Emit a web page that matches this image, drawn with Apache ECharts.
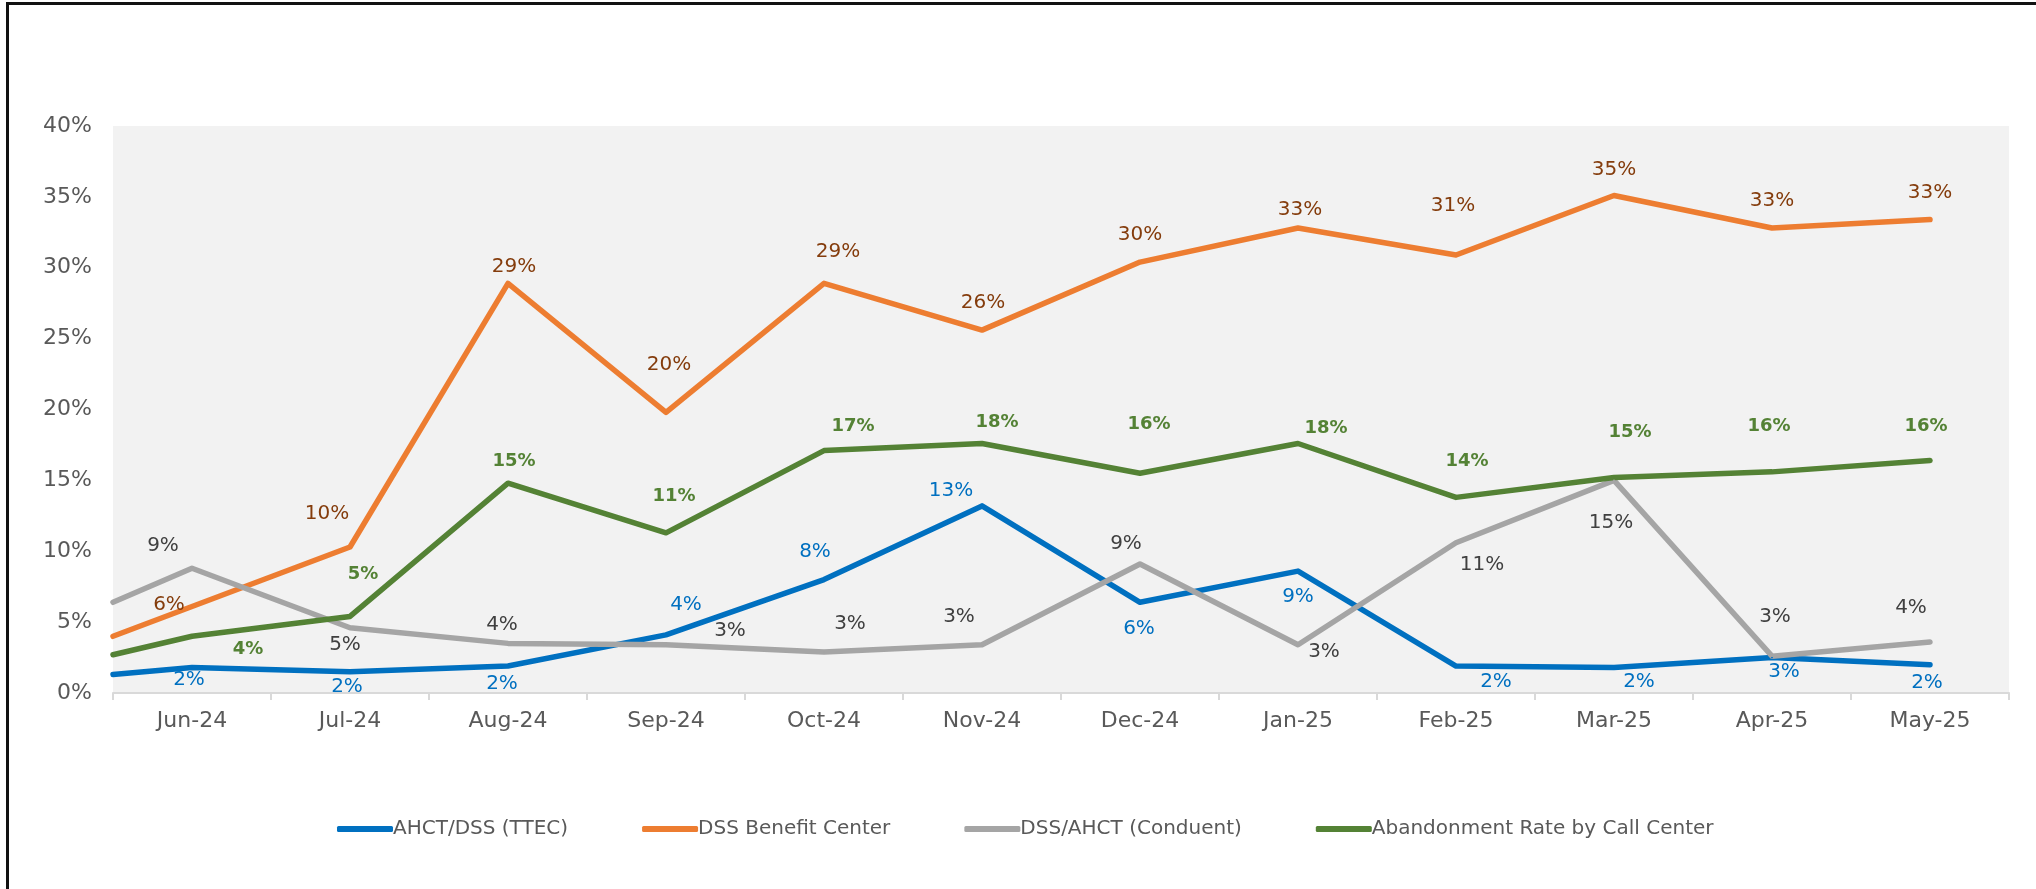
<!DOCTYPE html>
<html>
<head>
<meta charset="utf-8">
<title>Call center rates</title>
<script src="https://cdn.jsdelivr.net/npm/echarts@6/dist/echarts.min.js"></script>
<style>
  html, body { margin: 0; padding: 0; background: #fff; }
  #wrap { position: relative; width: 2036px; height: 889px; }
  #chart { width: 2036px; height: 889px; }
  #frame {
    position: absolute; left: 6px; top: 2px; right: -10px; bottom: -10px;
    border-left: 3px solid #111; border-top: 3px solid #111;
    pointer-events: none;
  }
</style>
</head>
<body>
<div id="wrap">
  <div id="chart"></div>
  <div id="frame"></div>
</div>
<script>
// month labels on the x axis
const months = ['Jun-24', 'Jul-24', 'Aug-24', 'Sep-24', 'Oct-24', 'Nov-24',
  'Dec-24', 'Jan-25', 'Feb-25', 'Mar-25', 'Apr-25', 'May-25']

// values in %, the first value of each series sits on the left edge of the plot (no label)
const ttec = [1.3, 1.8, 1.5, 1.9, 4.1, 8.0, 13.2, 6.4, 8.6, 1.9, 1.8, 2.5, 2.0]
const benefitCenter = [4.0, 6.1, 10.3, 28.9, 19.8, 28.9, 25.6, 30.4, 32.8, 30.9, 35.1, 32.8, 33.4]
const conduent = [6.4, 8.8, 4.6, 3.5, 3.4, 2.9, 3.4, 9.1, 3.4, 10.6, 15.0, 2.6, 3.6]
const abandonment = [2.7, 4.0, 5.4, 14.8, 11.3, 17.1, 17.6, 15.5, 17.6, 13.8, 15.2, 15.6, 16.4]

const seriesNames = ['AHCT/DSS (TTEC)', 'DSS Benefit Center', 'DSS/AHCT (Conduent)', 'Abandonment Rate by Call Center']

// x position of each value: left plot edge, then one per month
const xPos = [-0.5].concat(months.map((m, i) => i))

// label offsets (px, from the point) copied from the original placement
const labelOffsets = {
  ttec: [null, [-3, 12], [-3, 15], [-6, 18], [20, -30], [-9, -28], [-31, -15], [-1, 27], [0, 26], [40, 16], [25, 14], [12, 14], [-3, 18]],
  benefit: [null, [-23, -2], [-23, -33], [6, -17], [3, -48], [14, -32], [1, -27], [0, -27], [2, -18], [-3, -49], [0, -26], [0, -27], [0, -27]],
  conduent: [null, [-29, -22], [-5, 17], [-6, -19], [64, -14], [26, -28], [-23, -28], [-14, -20], [26, 7], [26, 22], [-3, 42], [3, -39], [-19, -34]],
  abandon: [null, [56, 13], [13, -42], [6, -22], [8, -36], [29, -24], [15, -21], [9, -49], [28, -15], [11, -36], [16, -45], [-3, -46], [-4, -34]]
}

const FONT = 'DejaVu Sans'

function buildData(values, offsets) {
  return values.map((v, i) => {
    const off = offsets[i]
    return {
      value: [xPos[i], v],
      label: off ? { show: true, offset: off } : { show: false }
    }
  })
}

function makeSeries(name, values, offsets, lineColor, labelColor, bold) {
  return {
    name: name,
    type: 'line',
    xAxisIndex: 1,
    symbol: 'circle',
    symbolSize: 2,
    showSymbol: true,
    itemStyle: { color: lineColor },
    lineStyle: { color: lineColor, width: 5.5, cap: 'round', join: 'round' },
    label: {
      show: true,
      position: 'inside',
      fontFamily: FONT,
      fontSize: bold ? 18 : 20,
      fontWeight: bold ? 'bold' : 'normal',
      color: labelColor,
      formatter: p => Math.round(p.value[1]) + '%'
    },
    emphasis: { disabled: true },
    animation: false,
    data: buildData(values, offsets)
  }
}

const chart = echarts.init(document.getElementById('chart'))

const option = {
  backgroundColor: '#fff',
  animation: false,
  textStyle: { fontFamily: FONT },
  grid: {
    left: 113,
    top: 126,
    width: 1896,
    height: 567,
    show: true,
    backgroundColor: '#F2F2F2',
    borderWidth: 0
  },
  legend: {
    left: 332,
    top: 814,
    itemWidth: 56,
    itemHeight: 6,
    itemGap: 74,
    icon: 'roundRect',
    textStyle: { fontFamily: FONT, fontSize: 20, color: '#595959', padding: [0, 0, 0, -5] },
    data: seriesNames
  },
  xAxis: [
    {
      type: 'category',
      data: months,
      boundaryGap: true,
      axisLine: { lineStyle: { color: '#D9D9D9', width: 2 } },
      axisTick: { show: true, length: 7, lineStyle: { color: '#D9D9D9', width: 2 } },
      axisLabel: { fontFamily: FONT, fontSize: 22, color: '#595959', margin: 17 },
      splitLine: { show: false }
    },
    {
      type: 'value',
      min: -0.5,
      max: 11.5,
      show: false,
      splitLine: { show: false }
    }
  ],
  yAxis: {
    type: 'value',
    min: 0,
    max: 40,
    interval: 5,
    axisLine: { show: false },
    axisTick: { show: false },
    splitLine: { show: false },
    axisLabel: { fontFamily: FONT, fontSize: 22, color: '#595959', margin: 21, formatter: '{value}%' }
  },
  series: [
    makeSeries(seriesNames[0], ttec, labelOffsets.ttec, '#0070C0', '#0070C0', false),
    makeSeries(seriesNames[1], benefitCenter, labelOffsets.benefit, '#ED7D31', '#843C0C', false),
    makeSeries(seriesNames[2], conduent, labelOffsets.conduent, '#A5A5A5', '#404040', false),
    makeSeries(seriesNames[3], abandonment, labelOffsets.abandon, '#548235', '#548235', true)
  ]
}

chart.setOption(option)
</script>
</body>
</html>
